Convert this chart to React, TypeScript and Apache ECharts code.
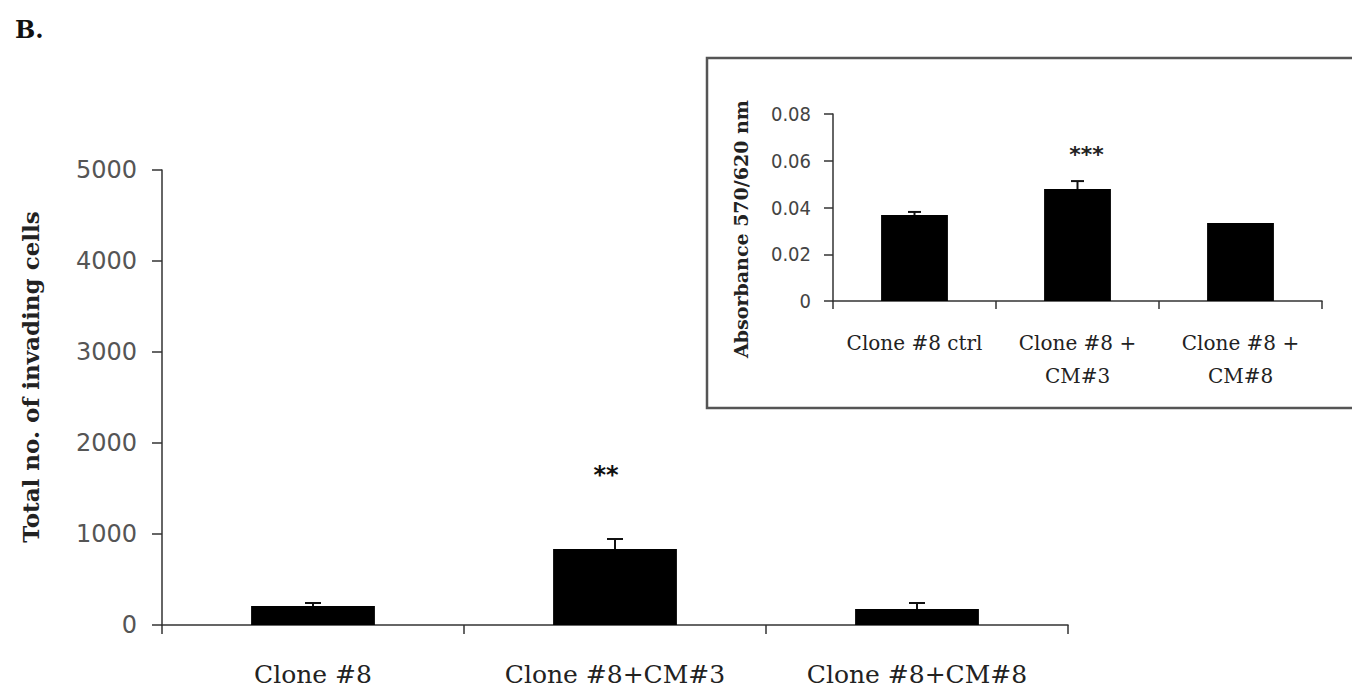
import React, { useEffect, useRef } from "react";
import * as echarts from "echarts";

// Main chart data
const mainCategories = ["Clone #8", "Clone #8+CM#3", "Clone #8+CM#8"];
const mainValues = [210, 835, 176];
const mainErrors = [32, 110, 66];
const mainSig = ["", "**", ""];
const mainYMin = 0;
const mainYMax = 5000;
const mainYInterval = 1000;

// Inset chart data
const insetCategories = ["Clone #8 ctrl", "Clone #8 +\nCM#3", "Clone #8 +\nCM#8"];
const insetValues = [0.0368, 0.0479, 0.0334];
const insetErrors = [0.0013, 0.0034, 0];
const insetSig = ["", "***", ""];
const insetYMin = 0;
const insetYMax = 0.08;
const insetYInterval = 0.02;

const SERIF = "'DejaVu Serif', 'Liberation Serif', serif";
const SANS = "'DejaVu Sans', Verdana, sans-serif";
const SANS_COND = "'DejaVu Sans Condensed', 'DejaVu Sans', sans-serif";

function errorRenderer(capWidth: number, lw: number) {
  return (params: any, api: any) => {
    const i = api.value(0);
    const v = api.value(1);
    const e = api.value(2);
    if (!e) return null;
    const base = api.coord([i, v]);
    const top = api.coord([i, v + e]);
    const hw = capWidth / 2;
    return {
      type: "group",
      children: [
        {
          type: "line",
          shape: { x1: base[0], y1: base[1], x2: top[0], y2: top[1] },
          style: { stroke: "#111", lineWidth: lw },
        },
        {
          type: "line",
          shape: { x1: top[0] - hw, y1: top[1], x2: top[0] + hw, y2: top[1] },
          style: { stroke: "#111", lineWidth: lw },
        },
      ],
    };
  };
}

export default function App() {
  const ref = useRef<HTMLDivElement>(null);
  useEffect(() => {
    if (!ref.current) return;
    const chart = echarts.init(ref.current, undefined, { renderer: "svg" });
    const axisColor = "#333";
    const option: any = {
      animation: false,
      backgroundColor: "#fff",
      grid: [
        { left: 162, top: 170, width: 906, height: 455 },
        { left: 833, top: 114, width: 489, height: 187 },
      ],
      xAxis: [
        {
          type: "category",
          gridIndex: 0,
          data: mainCategories,
          axisLine: { show: true, lineStyle: { color: axisColor, width: 1.5 } },
          axisTick: { show: true, length: 9, lineStyle: { color: axisColor, width: 1.5 } },
          axisLabel: {
            interval: 0,
            margin: 37,
            fontFamily: SERIF,
            fontSize: 25,
            color: "#222",
          },
        },
        {
          type: "category",
          gridIndex: 1,
          data: insetCategories,
          axisLine: { show: true, lineStyle: { color: axisColor, width: 1.5 } },
          axisTick: { show: true, length: 8, lineStyle: { color: axisColor, width: 1.5 } },
          axisLabel: {
            interval: 0,
            margin: 25,
            fontFamily: SERIF,
            fontSize: 20,
            lineHeight: 33,
            color: "#222",
          },
        },
      ],
      yAxis: [
        {
          type: "value",
          gridIndex: 0,
          min: mainYMin,
          max: mainYMax,
          interval: mainYInterval,
          splitLine: { show: false },
          axisLine: { show: true, lineStyle: { color: axisColor, width: 1.5 } },
          axisTick: { show: true, length: 10, lineStyle: { color: axisColor, width: 1.5 } },
          axisLabel: {
            margin: 25,
            fontFamily: SANS,
            fontSize: 24,
            color: "#555",
            formatter: (v: number) => String(v),
          },
        },
        {
          type: "value",
          gridIndex: 1,
          min: insetYMin,
          max: insetYMax,
          interval: insetYInterval,
          splitLine: { show: false },
          axisLine: { show: true, lineStyle: { color: axisColor, width: 1.5 } },
          axisTick: { show: true, length: 9, lineStyle: { color: axisColor, width: 1.5 } },
          axisLabel: {
            margin: 22,
            fontFamily: SANS_COND,
            fontSize: 20,
            color: "#444",
            formatter: (v: number) => (v === 0 ? "0" : v.toFixed(2)),
          },
        },
      ],
      series: [
        {
          type: "bar",
          xAxisIndex: 0,
          yAxisIndex: 0,
          data: mainValues,
          barWidth: "41%",
          itemStyle: { color: "#000" },
          label: {
            show: true,
            position: "top",
            distance: 62,
            offset: [-9, 0],
            formatter: (p: any) => mainSig[p.dataIndex],
            fontFamily: SANS,
            fontSize: 24,
            fontWeight: "bold",
            color: "#111",
          },
        },
        {
          type: "custom",
          xAxisIndex: 0,
          yAxisIndex: 0,
          data: mainValues.map((v, i) => [i, v, mainErrors[i]]),
          encode: { x: 0, y: 1 },
          renderItem: errorRenderer(16, 2),
          z: 5,
        },
        {
          type: "bar",
          xAxisIndex: 1,
          yAxisIndex: 1,
          data: insetValues,
          barWidth: "41%",
          itemStyle: { color: "#000" },
          label: {
            show: true,
            position: "top",
            distance: 24,
            offset: [9, 0],
            formatter: (p: any) => insetSig[p.dataIndex],
            fontFamily: SANS,
            fontSize: 22,
            fontWeight: "bold",
            color: "#222",
          },
        },
        {
          type: "custom",
          xAxisIndex: 1,
          yAxisIndex: 1,
          data: insetValues.map((v, i) => [i, v, insetErrors[i]]),
          encode: { x: 0, y: 1 },
          renderItem: errorRenderer(13, 2),
          z: 5,
        },
      ],
      graphic: [
        {
          type: "text",
          left: 15,
          top: 17,
          style: {
            text: "B.",
            fontFamily: SERIF,
            fontWeight: "bold",
            fontSize: 24,
            fill: "#111",
          },
        },
        {
          type: "text",
          x: 30,
          y: 377,
          rotation: Math.PI / 2,
          style: {
            text: "Total no. of invading cells",
            fontFamily: SERIF,
            fontWeight: "bold",
            fontSize: 23,
            fill: "#222",
            align: "center",
            verticalAlign: "middle",
          },
        },
        {
          type: "text",
          x: 741,
          y: 229,
          rotation: Math.PI / 2,
          style: {
            text: "Absorbance 570/620 nm",
            fontFamily: SERIF,
            fontWeight: "bold",
            fontSize: 19,
            fill: "#222",
            align: "center",
            verticalAlign: "middle",
          },
        },
        {
          type: "rect",
          shape: { x: 707, y: 58, width: 700, height: 350 },
          style: { fill: "transparent", stroke: "#555", lineWidth: 2.5 },
          z: -1,
        },
      ],
    };
    chart.setOption(option);
    return () => chart.dispose();
  }, []);
  return (
    <div
      ref={ref}
      style={{ position: "fixed", left: 0, top: 0, width: 1352, height: 692 }}
    />
  );
}
